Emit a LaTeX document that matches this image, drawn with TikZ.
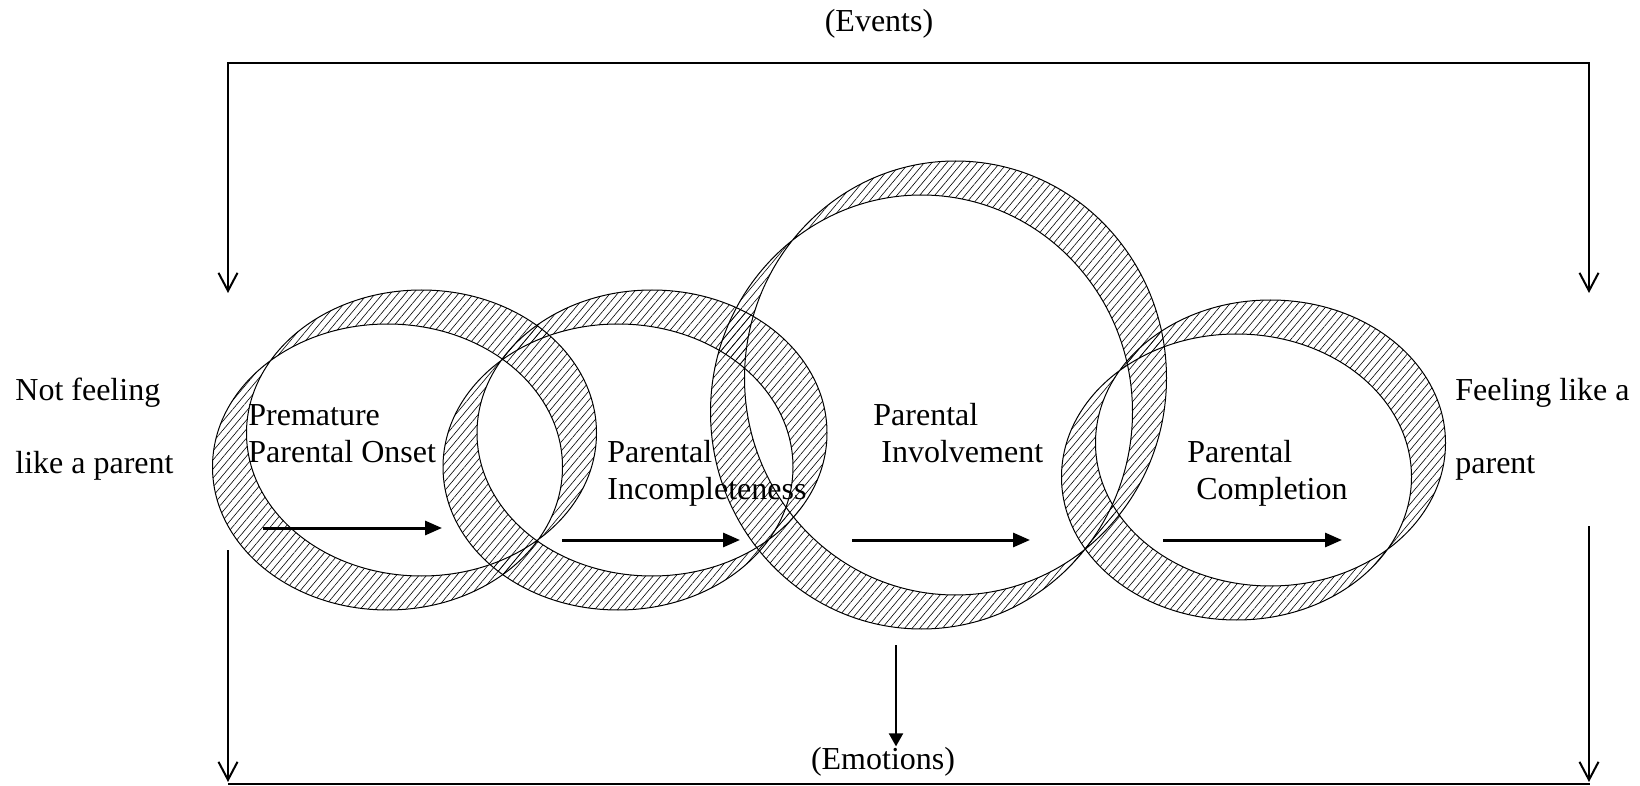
\documentclass[tikz,border=0pt]{standalone}
\usepackage{fontspec}
\setmainfont{Liberation Serif}
\usetikzlibrary{arrows.meta,patterns.meta}

\tikzset{
  ring/.style={draw, line width=0.5pt, even odd rule,
    pattern={Lines[angle=50,distance=2.9pt,line width=0.3pt]}},
  flow/.style={line width=1.5pt, -{Triangle[length=8.5pt,width=7pt]}},
  frame/.style={line width=1pt},
  barb/.tip={Straight Barb[length=9pt,width=9.5pt]},
  lbl/.style={font=\fontsize{16}{18.5}\selectfont, inner sep=0pt, align=left},
  sidelbl/.style={font=\fontsize{16}{36.5}\selectfont, inner sep=0pt, align=left},
}

\begin{document}
\begin{tikzpicture}[x=0.5pt, y=-0.5pt]
    \useasboundingbox (0,0) rectangle (1640,786);

    % draw rings (two shifted ellipses each)
    \foreach \cx/\cy/\rx/\ry in {404.5/450/175/143, 635/450/175/143,
                                 938.5/395/211/217, 1253.5/460/175/143}
      \path[ring] (\cx+17,\cy-17) ellipse [x radius=\rx, y radius=\ry]
                  (\cx-17,\cy+17) ellipse [x radius=\rx, y radius=\ry];

    % draw labels (anchored at baseline of last line)
    \node[sidelbl, anchor=base west] (notparent) at (15,473.5) {Not feeling\\like a parent};
    \node[sidelbl, anchor=base west] (parent) at (1455,473.5) {Feeling like a\\parent};
    \node[lbl, anchor=base west] (onset) at (248,463) {Premature\\Parental Onset};
    \node[lbl, anchor=base west] (incomplete) at (607,500) {Parental\\Incompleteness};
    \node[lbl, anchor=base west] (involve) at (873,463) {Parental\\\hspace{0.25em}Involvement};
    \node[lbl, anchor=base west] (complete) at (1187,500) {Parental\\\hspace{0.28em}Completion};
    \node[lbl, anchor=base] (events) at (879,32) {(Events)};
    \node[lbl, anchor=base] (emotions) at (883,769) {(Emotions)};

    % draw stage arrows
    \foreach \i/\xa/\xb/\y in {1/263/442/528, 2/562/740/540, 3/852/1030/540, 4/1163/1342/540} {
      \coordinate (f\i a) at (\xa,\y);
      \coordinate (f\i b) at (\xb,\y);
      \draw[flow] (f\i a) -- (f\i b);
    }

    % draw events frame
    \coordinate (evL) at (228,293);
    \coordinate (evR) at (1589,293);
    \coordinate (evC) at (1589,63);
    \draw[frame, barb-barb] (evL) |- (evC) -- (evR);

    % draw emotions frame
    \coordinate (emL) at (228,550);
    \coordinate (emR) at (1589,526);
    \coordinate (baseL) at (228,784);
    \coordinate (baseR) at (1590,784);
    \draw[frame, -barb] (emL) -- (emL |- 0,782);
    \draw[frame, -barb] (emR) -- (emR |- 0,782);
    \draw[frame] (baseL) -- (baseR);
    \coordinate (emC) at (896,645);
    \draw[frame, -{Triangle[length=6.5pt,width=7pt]}] (emC) -- (emC |- emotions.north);
\end{tikzpicture}
\end{document}
